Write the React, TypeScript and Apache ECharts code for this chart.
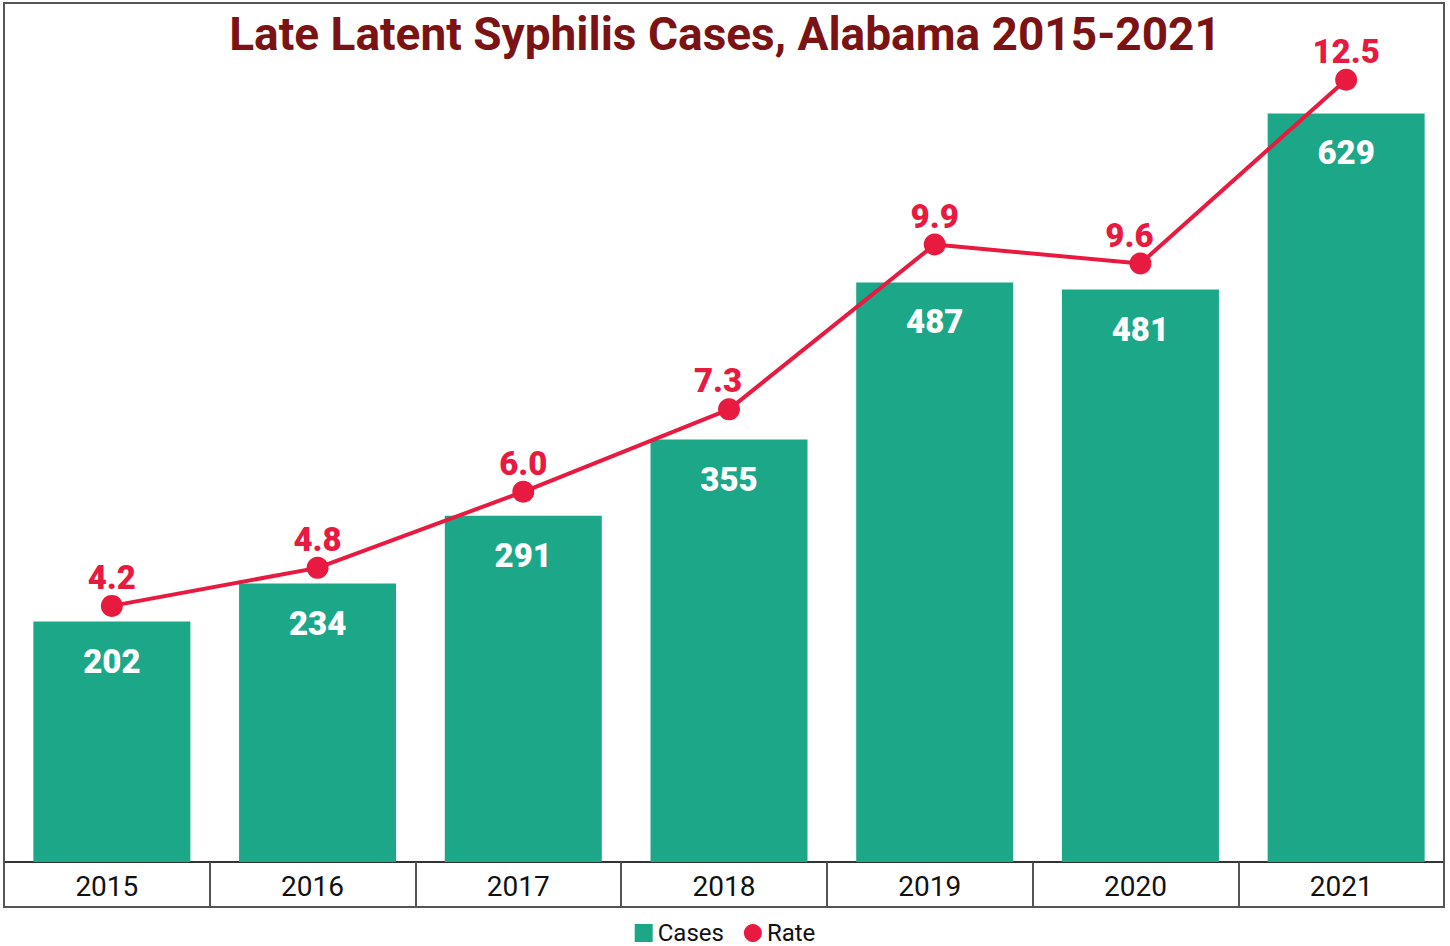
import React, { useEffect, useRef } from "react";
import * as echarts from "echarts";

const years = ["2015", "2016", "2017", "2018", "2019", "2020", "2021"];
const cases = [202, 234, 291, 355, 487, 481, 629];
const rates = [4.2, 4.8, 6.0, 7.3, 9.9, 9.6, 12.5];
const titleText = "Late Latent Syphilis Cases, Alabama 2015-2021";

const GREEN = "#1ca789";
const RED = "#e81a3f";
const TITLE = "#7b1214";
const FONT = "Roboto, 'Noto Sans', sans-serif";
// horizontal nudge of rate labels (style only)
const rateLabelNudge = [0, 0, 0, -11, 0, -11, 0];

export default function App() {
  const ref = useRef<HTMLDivElement>(null);
  useEffect(() => {
    document.body.style.margin = "0";
    const chart = echarts.init(ref.current!, null, { renderer: "svg" });
    chart.setOption({
      animation: false,
      backgroundColor: "#ffffff",
      textStyle: { fontFamily: FONT },
      title: {
        text: titleText,
        left: "center",
        top: 6,
        textStyle: { fontSize: 46, fontWeight: "bold", color: TITLE, fontFamily: FONT },
      },
      legend: {
        top: 916,
        left: "center",
        itemWidth: 18,
        itemHeight: 18,
        itemGap: 20,
        textStyle: { fontSize: 24, color: "#111", fontFamily: FONT },
        data: [
          { name: "Cases", icon: "rect" },
          { name: "Rate", icon: "circle" },
        ],
      },
      graphic: [
        {
          type: "rect",
          shape: { x: 4, y: 3, width: 1440, height: 904 },
          style: { fill: "none", stroke: "#555", lineWidth: 2 },
          z: 100,
        },
      ],
      grid: [
        { left: 9, top: 29, width: 1440, height: 833 },
        { left: 4, top: 862, width: 1440, height: 45, show: true, borderColor: "#333", borderWidth: 2, backgroundColor: "transparent" },
      ],
      xAxis: [
        {
          type: "category",
          gridIndex: 0,
          data: years,
          axisLine: { show: false },
          axisTick: { show: false },
          axisLabel: { show: false },
        },
        {
          type: "category",
          gridIndex: 1,
          data: years,
          position: "bottom",
          axisLine: { show: false },
          axisTick: { show: false },
          axisLabel: {
            show: true,
            margin: -35,
            fontSize: 28,
            color: "#111",
            fontFamily: FONT,
          },
          splitLine: { show: true, interval: 0, lineStyle: { color: "#555", width: 2 } },
        },
      ],
      yAxis: [
        { type: "value", gridIndex: 0, min: 0, max: 700, show: false, splitLine: { show: false } },
        { type: "value", gridIndex: 0, min: 0.16, max: 13.3, show: false, splitLine: { show: false } },
        { type: "value", gridIndex: 1, show: false, min: 0, max: 1, splitLine: { show: false } },
      ],
      series: [
        {
          name: "Cases",
          type: "bar",
          xAxisIndex: 0,
          yAxisIndex: 0,
          data: cases,
          barWidth: 157,
          itemStyle: { color: GREEN },
          label: {
            show: true,
            position: "insideTop",
            distance: 23,
            fontSize: 33,
            fontWeight: 900,
            color: "#fff",
            fontFamily: FONT,
          },
          z: 2,
        },
        {
          name: "Rate",
          type: "line",
          xAxisIndex: 0,
          yAxisIndex: 1,
          data: rates.map((v, i) => ({ value: v, label: { offset: [rateLabelNudge[i], 0] } })),
          symbol: "circle",
          symbolSize: 22,
          lineStyle: { color: RED, width: 4 },
          itemStyle: { color: RED },
          label: {
            show: true,
            position: "top",
            distance: 1,
            fontSize: 33,
            fontWeight: 900,
            color: RED,
            fontFamily: FONT,
            formatter: (p: any) => Number(p.value).toFixed(1),
          },
          z: 5,
        },
      ],
    });
    return () => chart.dispose();
  }, []);
  return (
    <div
      ref={ref}
      style={{ position: "absolute", left: 0, top: 0, width: 1450, height: 946 }}
    />
  );
}
